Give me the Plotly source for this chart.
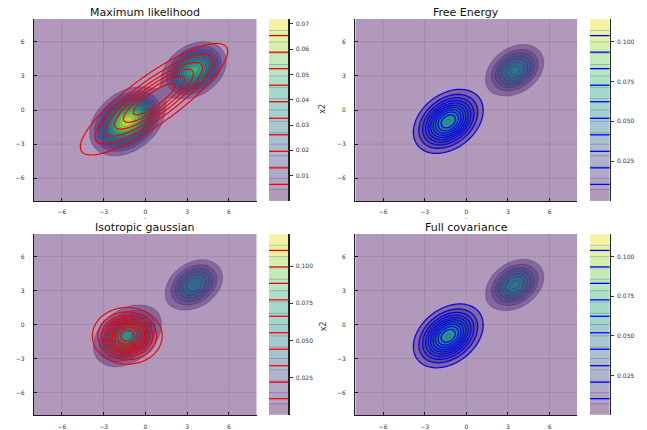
import numpy as np
import plotly.graph_objects as go
from plotly.colors import sample_colorscale, unlabel_rgb

# ---------------- data ----------------
true_weights = [0.63, 0.37]
true_means = [[-1.3, -1.0], [3.5, 3.5]]
true_covs = [[[1.32, 0.50], [0.50, 1.66]],
             [[1.09, 0.35], [0.35, 1.28]]]

titles = ["Maximum likelihood", "Free Energy", "Isotropic gaussian", "Full covariance"]
fit_means = [[0.62, 0.95], [-1.3, -1.0], [-1.3, -1.0], [-1.3, -1.0]]
fit_covs = [[[7.2, 5.7], [5.7, 6.2]],
            [[1.32, 0.50], [0.50, 1.66]],
            [[1.309, 0.0], [0.0, 1.309]],
            [[1.32, 0.50], [0.50, 1.66]]]
fit_colors = ["#ff0000", "#0000ff", "#ff0000", "#0000ff"]

cbar_tickvals = [[0.01, 0.02, 0.03, 0.04, 0.05, 0.06, 0.07],
                 [0.025, 0.05, 0.075, 0.1],
                 [0.025, 0.05, 0.075, 0.1],
                 [0.025, 0.05, 0.075, 0.1]]
cbar_ticktext = [["0.01", "0.02", "0.03", "0.04", "0.05", "0.06", "0.07"],
                 ["0.025", "0.050", "0.075", "0.100"],
                 ["0.025", "0.050", "0.075", "0.100"],
                 ["0.025", "0.050", "0.075", "0.100"]]
axis_ticks = [-6, -3, 0, 3, 6]
axis_range = [-8, 8]
n_line_levels = 10
n_fill_levels = 15
fill_alpha = 0.42

# ---------------- layout geometry (pixels) ----------------
W, H = 647, 430
plot_boxes = [(34, 256.7, 19.3, 203.3), (355.3, 577.3, 19.3, 203.3),
              (34, 256.7, 236.7, 420), (355.3, 577.3, 236.7, 420)]
cbar_boxes = [(269, 288.3), (590, 609.6), (269, 288.3), (590, 609.6)]
title_y = [13, 13, 230, 230]

FONT = "DejaVu Sans"

grid = np.linspace(axis_range[0], axis_range[1], 241)
X, Y = np.meshgrid(grid, grid)


def gauss(mean, cov):
    c = np.array(cov, dtype=float)
    inv = np.linalg.inv(c)
    det = np.linalg.det(c)
    dx = X - mean[0]
    dy = Y - mean[1]
    q = inv[0, 0] * dx * dx + 2 * inv[0, 1] * dx * dy + inv[1, 1] * dy * dy
    return np.exp(-0.5 * q) / (2 * np.pi * np.sqrt(det))


Z_true = sum(w * gauss(m, c) for w, m, c in zip(true_weights, true_means, true_covs))


def rgb_of(v):
    return np.array(unlabel_rgb(sample_colorscale("Viridis", [float(np.clip(v, 0, 1))])[0]), dtype=float)


def to_str(c):
    c = np.clip(np.round(c), 0, 255).astype(int)
    return f"rgb({c[0]},{c[1]},{c[2]})"


white = np.array([255.0, 255.0, 255.0])
nb = n_fill_levels + 1  # number of bands
pastel = [white * (1 - fill_alpha) + fill_alpha * rgb_of((k + 0.5) / nb) for k in range(nb)]
stacked = []
cur = white.copy()
for k in range(nb):
    cur = (1 - fill_alpha) * cur + fill_alpha * rgb_of((k + 0.5) / nb)
    stacked.append(cur.copy())
stack_scale = [[k / (nb - 1), to_str(stacked[k])] for k in range(nb)]
pastel_scale = [[k / (nb - 1), to_str(pastel[k])] for k in range(nb)]

fig = go.Figure()
layout = dict(width=W, height=H, margin=dict(l=0, r=0, t=0, b=0),
              paper_bgcolor="white", plot_bgcolor="white", showlegend=False,
              font=dict(family=FONT, color="#333"))
shapes = []
annotations = []


def ax_name(n, kind):
    return kind + ("" if n == 1 else str(n))


for i in range(4):
    nm = 2 * i + 1
    nc = 2 * i + 2
    x0, x1, y0, y1 = plot_boxes[i]
    cx0, cx1 = cbar_boxes[i]
    xd = [x0 / W, x1 / W]
    yd = [1 - y1 / H, 1 - y0 / H]
    cxd = [cx0 / W, cx1 / W]

    Z_fit = gauss(fit_means[i], fit_covs[i])
    zcb = max(Z_true.max(), Z_fit.max())
    step_f = zcb / (n_fill_levels + 1)
    step_l = zcb / (n_line_levels + 1)

    xa = ax_name(nm, "x")
    ya = ax_name(nm, "y")
    fig.add_trace(go.Contour(
        x=grid, y=grid, z=Z_true, xaxis=xa, yaxis=ya,
        contours=dict(coloring="fill", start=step_f, end=n_fill_levels * step_f, size=step_f,
                      showlines=True),
        line=dict(color="rgba(35,20,60,0.4)", width=0.6, smoothing=1),
        colorscale=stack_scale, showscale=False, hoverinfo="skip"))
    fig.add_trace(go.Contour(
        x=grid, y=grid, z=Z_fit, xaxis=xa, yaxis=ya,
        contours=dict(coloring="none", start=step_l, end=n_line_levels * step_l, size=step_l),
        line=dict(color=fit_colors[i], width=1.2, smoothing=1),
        showscale=False, hoverinfo="skip"))

    # colour bar drawn as a narrow heatmap
    yv = np.linspace(0, zcb, 600)
    band = np.minimum(np.floor(yv / step_f), n_fill_levels)
    fig.add_trace(go.Heatmap(
        x=[0], y=yv, z=band[:, None], xaxis=ax_name(nc, "x"), yaxis=ax_name(nc, "y"),
        colorscale=pastel_scale, zmin=0, zmax=n_fill_levels, showscale=False, hoverinfo="skip"))

    common = dict(range=axis_range, tickvals=axis_ticks,
                  ticktext=[("−" + str(-t)) if t < 0 else str(t) for t in axis_ticks],
                  showgrid=False, zeroline=False, showline=True, linecolor="#24142e", linewidth=1.3,
                  ticks="inside", ticklen=3, tickcolor="#24142e", tickwidth=1,
                  tickfont=dict(size=6, color="#333", family=FONT))
    layout["xaxis" + ("" if nm == 1 else str(nm))] = dict(domain=xd, anchor=ya, ticklabelstandoff=5, **common)
    layout["yaxis" + ("" if nm == 1 else str(nm))] = dict(domain=yd, anchor=xa, ticklabelstandoff=7, **common)
    layout[f"xaxis{nc}"] = dict(domain=cxd, anchor=ax_name(nc, "y"), range=[-0.5, 0.5], visible=False, fixedrange=True)
    layout[f"yaxis{nc}"] = dict(domain=yd, anchor=ax_name(nc, "x"), side="right", range=[0, zcb],
                                tickvals=cbar_tickvals[i], ticktext=cbar_ticktext[i],
                                showgrid=False, zeroline=False, showline=True, linecolor="#222", linewidth=1.3,
                                ticks="outside", ticklen=3, tickcolor="#333",
                                tickfont=dict(size=6, color="#333", family=FONT), ticklabelstandoff=2)

    for t in axis_ticks:
        shapes.append(dict(type="line", xref=xa, yref=ya + " domain", x0=t, x1=t, y0=0, y1=1,
                           line=dict(color="rgba(0,0,0,0.09)", width=1), layer="above"))
        shapes.append(dict(type="line", xref=xa + " domain", yref=ya, x0=0, x1=1, y0=t, y1=t,
                           line=dict(color="rgba(0,0,0,0.09)", width=1), layer="above"))
    cxa = ax_name(nc, "x") + " domain"
    cya = ax_name(nc, "y")
    for k in range(1, n_fill_levels + 1):
        shapes.append(dict(type="line", xref=cxa, yref=cya, x0=0, x1=1, y0=k * step_f, y1=k * step_f,
                           line=dict(color="rgba(60,40,90,0.30)", width=0.8), layer="above"))
    for k in range(1, n_line_levels + 1):
        shapes.append(dict(type="line", xref=cxa, yref=cya, x0=0, x1=1, y0=k * step_l, y1=k * step_l,
                           line=dict(color=fit_colors[i], width=1.3), layer="above"))

    annotations.append(dict(text=titles[i], xref="paper", yref="paper", x=(x0 + x1) / 2 / W,
                            y=1 - title_y[i] / H, xanchor="center", yanchor="middle", showarrow=False,
                            font=dict(size=11, color="#111", family=FONT)))

for yy in (110, 330):
    annotations.append(dict(text="x2", xref="paper", yref="paper", x=323 / W, y=1 - yy / H,
                            textangle=-90, showarrow=False, xanchor="center", yanchor="middle",
                            font=dict(size=8, color="#333", family=FONT)))
for xx in (145.3, 466.3):
    annotations.append(dict(text="-", xref="paper", yref="paper", x=xx / W, y=1 - 220 / H,
                            showarrow=False, xanchor="center", yanchor="middle",
                            font=dict(size=6, color="#555", family=FONT)))

layout["shapes"] = shapes
layout["annotations"] = annotations
fig.update_layout(**layout)
fig.write_html("out.html", config={"displayModeBar": False, "staticPlot": True},
               post_script="document.body.style.margin='0px';")
